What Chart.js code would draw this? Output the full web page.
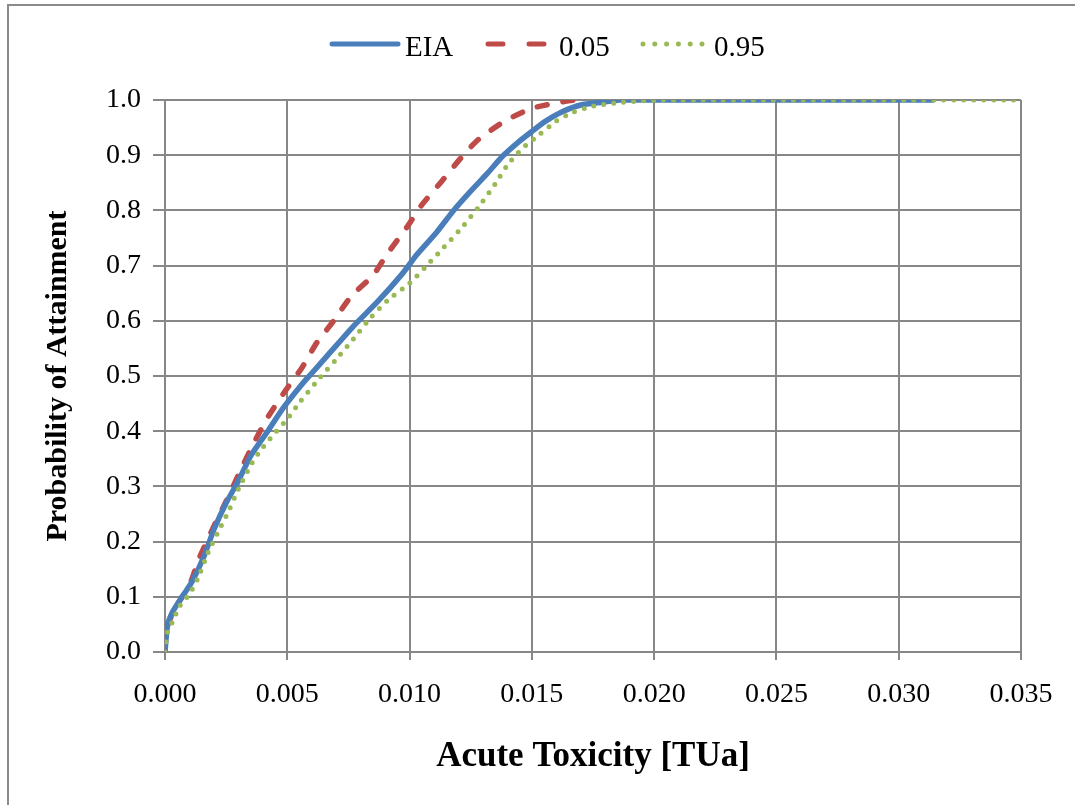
<!DOCTYPE html>
<html>
<head>
<meta charset="utf-8">
<script src="https://cdn.jsdelivr.net/npm/chart.js@4.4.1/dist/chart.umd.min.js"></script>
<style>
  html, body { margin: 0; padding: 0; background: #fff; }
  #wrap { position: relative; width: 1075px; height: 805px; overflow: hidden; }
  #frame { position: absolute; left: 7px; top: 4px; width: 1100px; height: 830px; border-left: 2px solid #8a8a8a; border-top: 2px solid #8a8a8a; box-sizing: border-box; pointer-events: none; }
  canvas { position: absolute; left: 0; top: 0; }
</style>
</head>
<body>
<div id="wrap">
  <canvas id="c" width="1075" height="805"></canvas>
  <div id="frame"></div>
</div>
<script>
// ---- Data ----
const seriesNames = ['EIA', '0.05', '0.95'];

const eiaX = [0, 0.0001, 0.0003, 0.0007, 0.0011, 0.0016, 0.0020, 0.0025, 0.0030, 0.0035, 0.0042, 0.0048, 0.0056, 0.0060, 0.0067, 0.0077, 0.0087, 0.0097, 0.0103, 0.0111, 0.0118, 0.0125, 0.0132, 0.0138, 0.0144, 0.0150, 0.0155, 0.0162, 0.0170, 0.0179, 0.0186, 0.0314];
const eiaY = [0, 0.047, 0.072, 0.100, 0.127, 0.174, 0.222, 0.270, 0.310, 0.355, 0.400, 0.440, 0.485, 0.505, 0.540, 0.590, 0.635, 0.685, 0.720, 0.760, 0.800, 0.835, 0.868, 0.898, 0.922, 0.943, 0.960, 0.978, 0.991, 0.996, 1.0, 1.0];

const p05X = [0, 0, 0.0004, 0.0009, 0.0011, 0.0014, 0.0020, 0.0025, 0.0031, 0.0036, 0.0042, 0.0049, 0.0056, 0.0062, 0.0069, 0.0076, 0.0085, 0.0091, 0.0099, 0.0105, 0.0113, 0.0121, 0.0128, 0.0139, 0.0150, 0.0164, 0.0168];
const p05Y = [0, 0.036, 0.078, 0.114, 0.132, 0.170, 0.228, 0.273, 0.330, 0.376, 0.425, 0.472, 0.515, 0.560, 0.600, 0.644, 0.682, 0.722, 0.770, 0.810, 0.852, 0.895, 0.928, 0.962, 0.985, 0.998, 1.0];

const p95X = [0, 0.0001, 0.0003, 0.0006, 0.0010, 0.00135, 0.00176, 0.0022, 0.0026, 0.0030, 0.0035, 0.0039, 0.0044, 0.0050, 0.0055, 0.0062, 0.0070, 0.0077, 0.0084, 0.0091, 0.0100, 0.0107, 0.0114, 0.0121, 0.0128, 0.0135, 0.0140, 0.0146, 0.0153, 0.0160, 0.0167, 0.0175, 0.0185, 0.0194, 0.0202, 0.0350];
const p95Y = [0, 0.036, 0.054, 0.083, 0.105, 0.134, 0.180, 0.220, 0.255, 0.295, 0.338, 0.365, 0.392, 0.422, 0.452, 0.490, 0.530, 0.567, 0.605, 0.637, 0.668, 0.700, 0.733, 0.767, 0.805, 0.848, 0.882, 0.912, 0.937, 0.962, 0.978, 0.989, 0.995, 0.998, 1.0, 1.0];

const xTicks = [0, 0.005, 0.010, 0.015, 0.020, 0.025, 0.030, 0.035];
const yTicks = [0, 0.1, 0.2, 0.3, 0.4, 0.5, 0.6, 0.7, 0.8, 0.9, 1.0];

const colors = ['#4A7EBB', '#BE4B48', '#98B954'];

function pts(xs, ys) { return xs.map((x, i) => ({ x: x, y: ys[i] })); }

const GRID = '#878787';
const FONT = '"Liberation Serif", "Times New Roman", serif';

const legendPlugin = {
  id: 'excelLegend',
  afterDraw(chart) {
    const ctx = chart.ctx;
    ctx.save();
    const y = 44;
    const items = [
      { x0: 332, x1: 398, tx: 405, dash: [], color: colors[0], label: seriesNames[0] },
      { x0: 488, x1: 545, tx: 559, dash: [15, 26], color: colors[1], label: seriesNames[1] },
      { x0: 643, x1: 703, tx: 714, dash: [0, 11.8], color: colors[2], label: seriesNames[2] }
    ];
    items.forEach(it => {
      ctx.beginPath();
      ctx.strokeStyle = it.color;
      ctx.lineWidth = 5;
      ctx.lineCap = 'round';
      ctx.setLineDash(it.dash);
      ctx.moveTo(it.x0, y);
      ctx.lineTo(it.x1, y);
      ctx.stroke();
      ctx.setLineDash([]);
      ctx.fillStyle = '#000';
      ctx.font = '29px ' + FONT;
      ctx.textBaseline = 'alphabetic';
      ctx.textAlign = 'left';
      ctx.fillText(it.label, it.tx, 56);
    });
    ctx.restore();
  }
};

new Chart(document.getElementById('c'), {
  type: 'line',
  data: {
    datasets: [
      { label: seriesNames[0], data: pts(eiaX, eiaY), borderColor: colors[0], backgroundColor: colors[0], borderWidth: 5.5, pointRadius: 0, tension: 0.2, order: 1, borderCapStyle: 'round', borderJoinStyle: 'round' },
      { label: seriesNames[1], data: pts(p05X, p05Y), borderColor: colors[1], backgroundColor: colors[1], borderWidth: 5.5, pointRadius: 0, tension: 0.2, borderDash: [10, 16], borderCapStyle: 'round', order: 2 },
      { label: seriesNames[2], data: pts(p95X, p95Y), borderColor: colors[2], backgroundColor: colors[2], borderWidth: 5, pointRadius: 0, tension: 0.2, borderDash: [0, 10], borderCapStyle: 'round', order: 0 }
    ]
  },
  options: {
    responsive: false,
    animation: false,
    devicePixelRatio: 1,
    layout: { padding: { top: 100, right: 54, left: 0, bottom: 0 } },
    plugins: { legend: { display: false }, tooltip: { enabled: false } },
    scales: {
      x: {
        type: 'linear',
        min: 0, max: 0.035,
        afterFit(scale) { scale.height = 153; },
        afterBuildTicks(scale) { scale.ticks = xTicks.map(v => ({ value: v })); },
        grid: { color: GRID, lineWidth: 2, tickLength: 8, drawTicks: true },
        border: { color: GRID, width: 2 },
        ticks: { color: '#000', font: { family: FONT, size: 28 }, padding: 18, maxRotation: 0, callback: v => v.toFixed(3) },
        title: { display: true, text: 'Acute Toxicity [TUa]', color: '#000', font: { family: FONT, size: 35, weight: 'bold' }, padding: { top: 0, bottom: 27 } }
      },
      y: {
        type: 'linear',
        min: 0, max: 1,
        afterFit(scale) { scale.width = 165; },
        afterBuildTicks(scale) { scale.ticks = yTicks.map(v => ({ value: v })); },
        grid: { color: GRID, lineWidth: 2, tickLength: 12, drawTicks: true },
        border: { color: GRID, width: 2 },
        ticks: { color: '#000', font: { family: FONT, size: 28 }, padding: 12, callback: v => v.toFixed(1) },
        title: { display: true, text: 'Probability of Attainment', color: '#000', font: { family: FONT, size: 30, weight: 'bold' }, padding: { top: 40, bottom: 0 } }
      }
    }
  },
  plugins: [legendPlugin]
});
</script>
</body>
</html>
